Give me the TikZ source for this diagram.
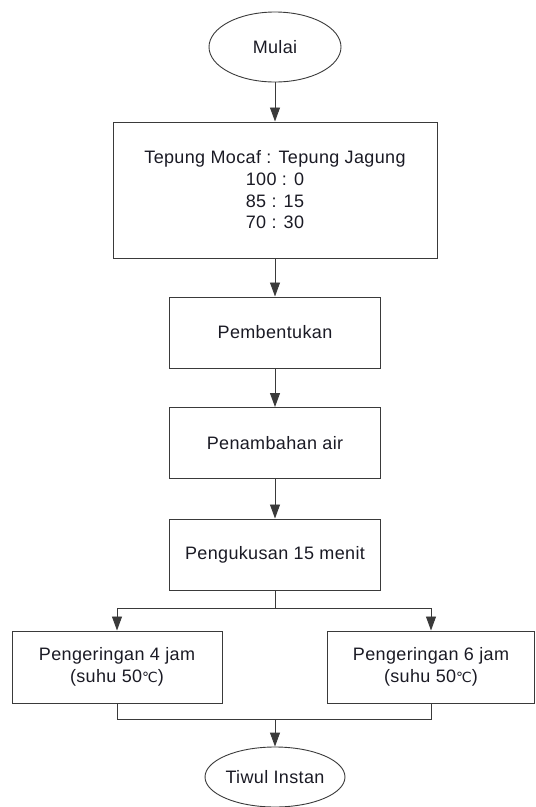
\documentclass[tikz,border=0pt]{standalone}
\usepackage{fontspec}
\setmainfont{Liberation Sans}[LetterSpace=2]
\newfontfamily\symfont{DejaVu Sans}
\usetikzlibrary{arrows.meta,shapes.geometric}
\definecolor{txt}{HTML}{1A1A24}
\definecolor{ln}{HTML}{3A3A3A}
\newcommand{\degC}{{\symfont\fontsize{14}{16}\selectfont ℃}}
\tikzset{
  x=1pt,y=1pt,
  every node/.style={font=\fontsize{18}{21.7}\selectfont, text=txt},
  procbox/.style={draw=ln, line width=1pt, rectangle, align=center, inner sep=0pt},
  term/.style={draw=ln, line width=0.9pt, ellipse, inner sep=0pt},
  conn/.style={draw=ln, line width=0.9pt},
  arr/.style={conn, -{Triangle[length=14pt,width=10pt]}}
}
\begin{document}
\begin{tikzpicture}
\useasboundingbox (0,0) rectangle (536,-807);
\node[term, minimum width=132, minimum height=70] (start) at (275,-47) {Mulai};
\node[procbox, minimum width=324, minimum height=136] (ratio) at (275,-190) {Tepung Mocaf : Tepung Jagung\\100 : 0\\85 : 15\\70 : 30};
\node[procbox, minimum width=211, minimum height=71] (bentuk) at (275,-332.5) {Pembentukan};
\node[procbox, minimum width=211, minimum height=71] (air) at (275,-443) {Penambahan air};
\node[procbox, minimum width=211, minimum height=71] (kukus) at (275,-554.5) {Pengukusan 15 menit};
\node[procbox, minimum width=210, minimum height=72] (kering4) at (117,-667) {Pengeringan 4 jam\\(suhu 50\degC)};
\node[procbox, minimum width=207, minimum height=72] (kering6) at (431,-667) {Pengeringan 6 jam\\(suhu 50\degC)};
\node[term, minimum width=134, minimum height=60] (finish) at (275,-777) {Tiwul Instan};
\coordinate (split) at (275,-608);
\coordinate (merge) at (275,-719);
\draw[arr] (start) -- (ratio);
\draw[arr] (ratio) -- (bentuk);
\draw[arr] (bentuk) -- (air);
\draw[arr] (air) -- (kukus);
\draw[conn] (kukus) -- (split);
\draw[arr] (split) -| (kering4.north);
\draw[arr] (split) -| (kering6.north);
\draw[conn] (kering4.south) |- (merge);
\draw[conn] (kering6.south) |- (merge);
\draw[arr] (merge) -- (finish);
\end{tikzpicture}
\end{document}
